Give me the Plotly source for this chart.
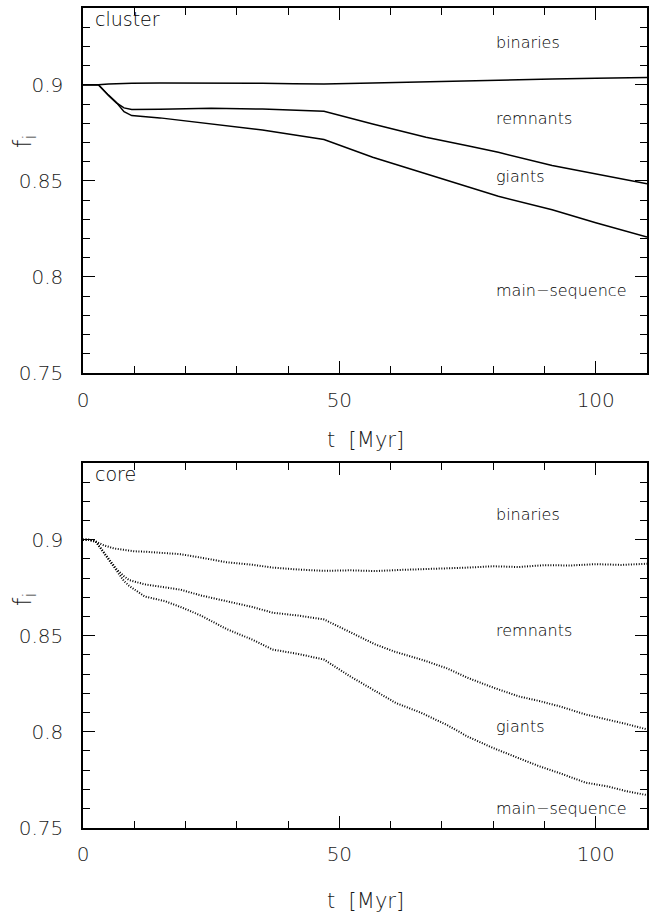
import plotly.graph_objects as go

# ---------------- data: top panel (cluster) ----------------
t_cl = [0, 3, 5, 6.6, 8, 9.5, 15, 25, 35, 41, 47, 56.5, 66.9, 75, 81, 91.5, 100, 110]
cl_binaries = [0.9, 0.9, 0.9004, 0.9006, 0.9007, 0.9008, 0.9009, 0.901, 0.9008, 0.9006, 0.9004,
               0.9010, 0.9017, 0.9022, 0.9025, 0.9030, 0.9034, 0.9038]
cl_remnants = [0.9, 0.9, 0.8945, 0.8905, 0.888, 0.8872, 0.8873, 0.8878, 0.8874, 0.8868, 0.8862,
               0.8796, 0.8727, 0.8683, 0.8649, 0.858, 0.8535, 0.8485]
cl_giants = [0.9, 0.9, 0.8945, 0.8905, 0.886, 0.884, 0.8828, 0.8796, 0.8765, 0.874, 0.8715,
             0.8623, 0.8537, 0.8471, 0.8420, 0.8350, 0.8282, 0.8208]

# ---------------- data: bottom panel (core) ----------------
t_co_b = [0, 1, 2.5, 4, 6, 8, 10, 12, 15, 19, 23, 28, 33, 37, 42, 47, 52, 57, 62, 66, 71, 75,
          80, 85, 90, 95, 100, 105, 110]
co_binaries = [0.9, 0.9002, 0.899, 0.8972, 0.8955, 0.8948, 0.894, 0.8938, 0.8932, 0.8925, 0.8907,
               0.8883, 0.887, 0.8855, 0.8845, 0.8838, 0.8841, 0.8837, 0.8843, 0.8846, 0.8850,
               0.8855, 0.8862, 0.8858, 0.8868, 0.8866, 0.8873, 0.8869, 0.8875]

t_co = [0, 1, 2.5, 4, 5.5, 6.6, 8, 9, 12, 16, 19, 23, 28, 33, 37, 42, 47, 52, 57, 61, 66, 71,
        75, 80, 85, 89, 93, 98, 102.5, 106, 110]
co_remnants = [0.9, 0.9001, 0.899, 0.8935, 0.888, 0.8845, 0.881, 0.879, 0.8768, 0.8752, 0.874,
               0.871, 0.868, 0.865, 0.862, 0.8605, 0.8585, 0.852, 0.8455, 0.8415, 0.8376, 0.833,
               0.8281, 0.823, 0.8184, 0.816, 0.8132, 0.809, 0.8063, 0.804, 0.8012]
co_giants = [0.9, 0.9001, 0.899, 0.8935, 0.888, 0.8838, 0.8785, 0.876, 0.8705, 0.868, 0.865,
             0.8605, 0.8535, 0.848, 0.8428, 0.8405, 0.8376, 0.829, 0.8211, 0.815, 0.8098,
             0.8035, 0.7975, 0.7915, 0.7862, 0.782, 0.7784, 0.7735, 0.7714, 0.769, 0.767]

panel_titles = ["cluster", "core"]
region_labels = ["binaries", "remnants", "giants", "main\u2212sequence"]
label_y_cluster = [0.9219, 0.8824, 0.8523, 0.7927]
label_y_core = [0.9134, 0.8528, 0.8028, 0.7601]

W, H = 652, 913
FONT = "DejaVu Sans"

fig = go.Figure()

for yv in (cl_binaries, cl_remnants, cl_giants):
    fig.add_trace(go.Scatter(x=t_cl, y=yv, mode="lines", xaxis="x", yaxis="y",
                             line=dict(color="black", width=1.5), showlegend=False,
                             hoverinfo="skip"))

dot_line = dict(color="black", width=2, dash="1px,1.6px")
fig.add_trace(go.Scatter(x=t_co_b, y=co_binaries, mode="lines", xaxis="x2", yaxis="y2",
                         line=dot_line, showlegend=False, hoverinfo="skip"))
for yv in (co_remnants, co_giants):
    fig.add_trace(go.Scatter(x=t_co, y=yv, mode="lines", xaxis="x2", yaxis="y2",
                             line=dot_line, showlegend=False, hoverinfo="skip"))

xdom = [83 / W, 647 / W]
ydom_top = [1 - 373 / H, 1 - 8 / H]
ydom_bot = [1 - 827.7 / H, 1 - 463 / H]

tickfont = dict(family=FONT, size=20, color="#1a1a1a", weight=200)

def xax(domain, anchor):
    return dict(domain=domain, anchor=anchor, range=[0, 110], tickmode="linear",
                tick0=0, dtick=50, ticks="inside", ticklen=12, automargin=False,
                tickwidth=1.2, tickcolor="black", showline=True, linecolor="black",
                linewidth=1.5, mirror="ticks", showgrid=False, zeroline=False,
                tickfont=tickfont, ticklabelstandoff=8,
                minor=dict(ticks="inside", ticklen=7, dtick=10, tick0=0, tickcolor="black",
                           tickwidth=1.2, showgrid=False))

def yax(domain, anchor):
    return dict(domain=domain, anchor=anchor, range=[0.75, 0.94], tickmode="linear",
                tick0=0.75, dtick=0.05, ticks="inside", ticklen=12, automargin=False,
                tickwidth=1.2, tickcolor="black", showline=True, linecolor="black",
                linewidth=1.5, mirror="ticks", showgrid=False, zeroline=False,
                tickfont=tickfont, ticklabelstandoff=14,
                minor=dict(ticks="inside", ticklen=7, dtick=0.01, tick0=0.75,
                           tickcolor="black", tickwidth=1.2, showgrid=False))

fig.update_layout(
    width=W, height=H, margin=dict(l=0, r=0, t=0, b=0, autoexpand=False),
    paper_bgcolor="white", plot_bgcolor="white",
    xaxis=xax(xdom, "y"), yaxis=yax(ydom_top, "x"),
    xaxis2=xax(xdom, "y2"), yaxis2=yax(ydom_bot, "x2"),
)

ann = []
lab_font = dict(family=FONT, size=16, color="black", weight=200)
ttl_font = dict(family=FONT, size=19, color="black", weight=200)
for xr, yr, ys, title in (("x", "y", label_y_cluster, panel_titles[0]),
                          ("x2", "y2", label_y_core, panel_titles[1])):
    ann.append(dict(x=2.0, y=0.94, xref=xr, yref=yr, text=title, showarrow=False,
                    xanchor="left", yanchor="top", yshift=2, font=ttl_font))
    for lab, yv in zip(region_labels, ys):
        ann.append(dict(x=80.2, y=yv, xref=xr, yref=yr, text=lab, showarrow=False,
                        xanchor="left", yanchor="middle", font=lab_font))

title_font = dict(family=FONT, size=21, color="#1a1a1a", weight=200)
ann.append(dict(x=365 / W, y=1 - 440 / H, xref="paper", yref="paper", text="t  [Myr]",
                showarrow=False, xanchor="center", yanchor="middle", font=title_font))
ann.append(dict(x=365 / W, y=1 - 901 / H, xref="paper", yref="paper", text="t  [Myr]",
                showarrow=False, xanchor="center", yanchor="middle", font=title_font))
fi_font = dict(family=FONT, size=24, color="#1a1a1a", weight=200)
ann.append(dict(x=24 / W, y=1 - 142 / H, xref="paper", yref="paper",
                text="f<sub>i</sub>", textangle=-90, showarrow=False,
                xanchor="center", yanchor="middle", font=fi_font))
ann.append(dict(x=24 / W, y=1 - 600 / H, xref="paper", yref="paper",
                text="f<sub>i</sub>", textangle=-90, showarrow=False,
                xanchor="center", yanchor="middle", font=fi_font))
fig.update_layout(annotations=ann)

fig.write_html("out.html")
